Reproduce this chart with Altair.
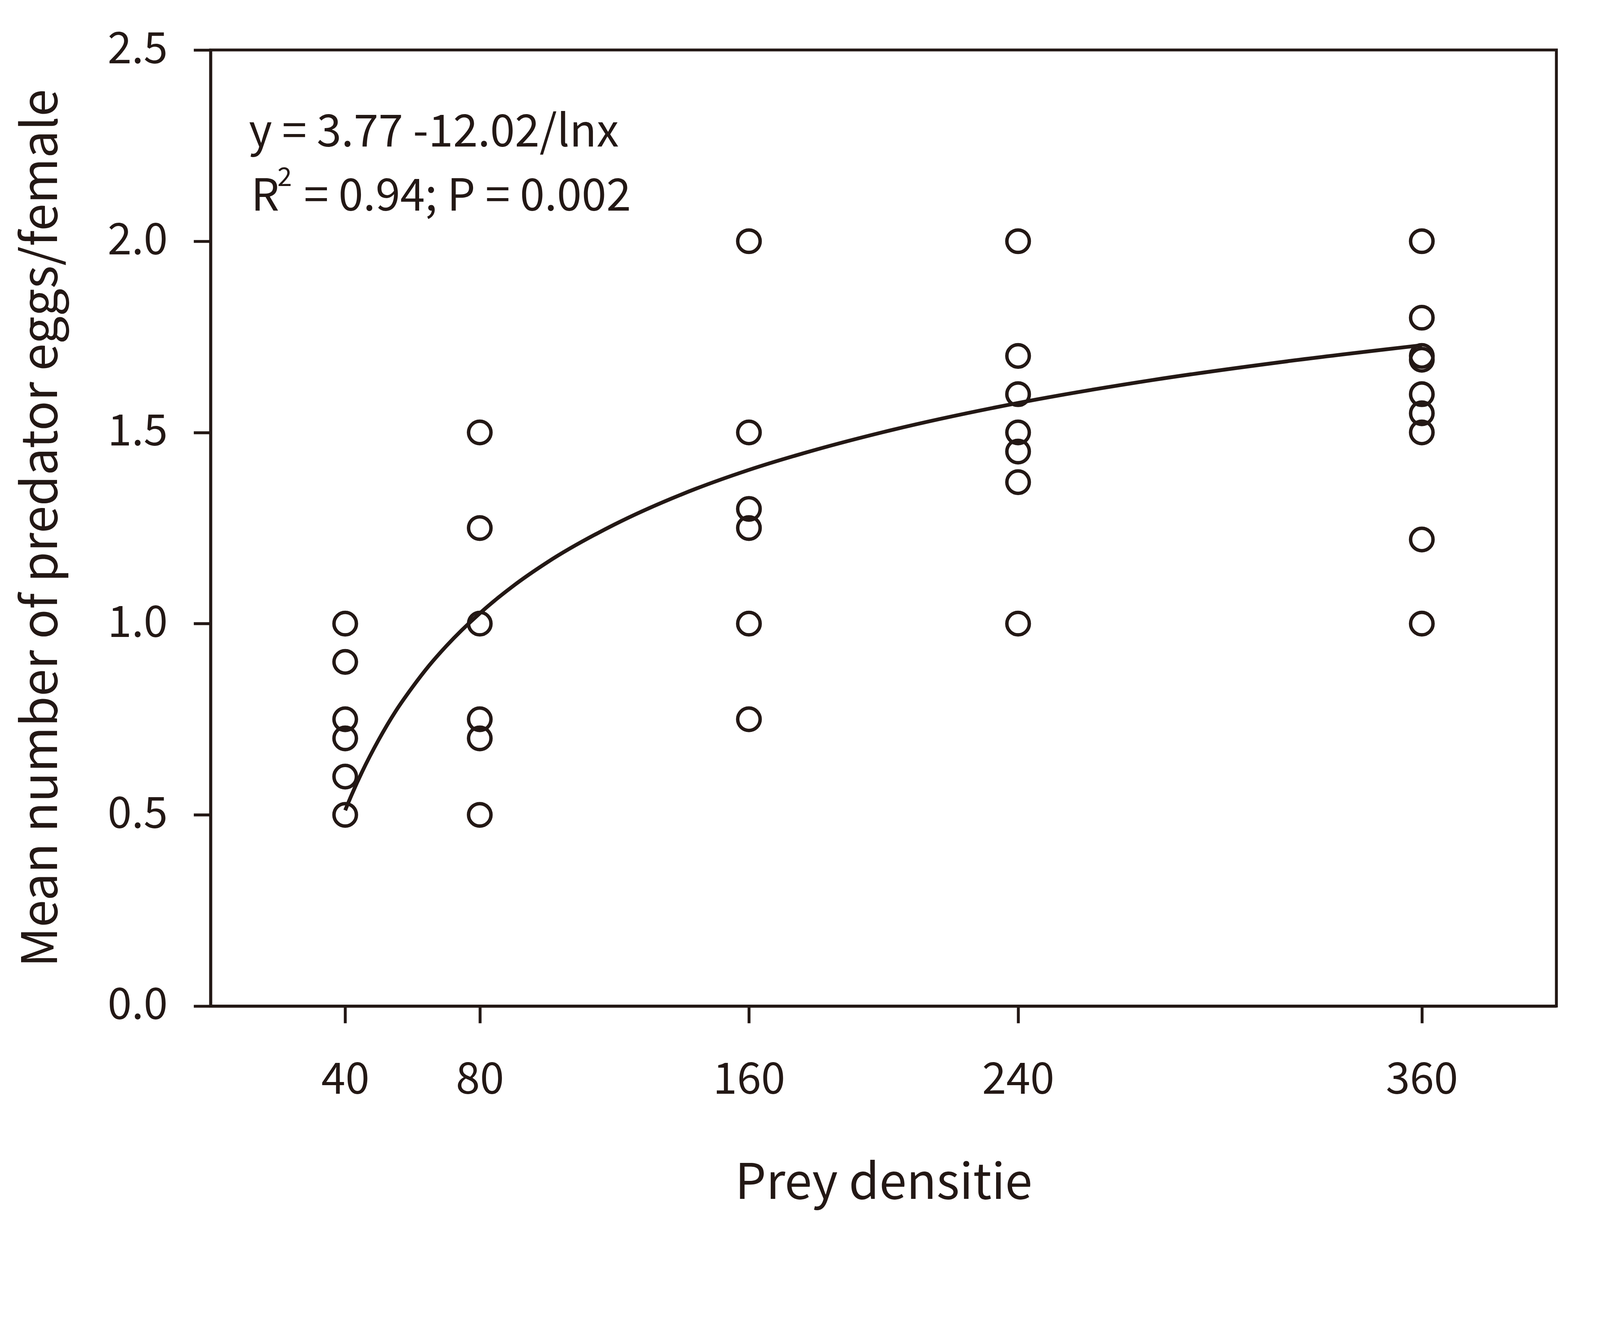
import altair as alt
import pandas as pd

# ---- data ----
density_40 = [40, 40, 40, 40, 40, 40]
eggs_40 = [1.0, 0.9, 0.75, 0.7, 0.6, 0.5]
density_80 = [80, 80, 80, 80, 80, 80]
eggs_80 = [1.5, 1.25, 1.0, 0.75, 0.7, 0.5]
density_160 = [160, 160, 160, 160, 160, 160]
eggs_160 = [2.0, 1.5, 1.3, 1.25, 1.0, 0.75]
density_240 = [240, 240, 240, 240, 240, 240, 240]
eggs_240 = [2.0, 1.7, 1.6, 1.5, 1.45, 1.37, 1.0]
density_360 = [360, 360, 360, 360, 360, 360, 360, 360, 360]
eggs_360 = [2.0, 1.8, 1.7, 1.69, 1.6, 1.55, 1.5, 1.22, 1.0]

# fitted curve
fit_x = [40, 42, 45, 50, 55, 60, 65, 70, 80, 90, 100, 120, 140, 160, 180, 200, 240, 280, 320, 360]
fit_y = [0.512, 0.554, 0.612, 0.697, 0.771, 0.834, 0.891, 0.941, 1.027, 1.099, 1.160, 1.259,
         1.338, 1.402, 1.455, 1.501, 1.577, 1.637, 1.686, 1.728]

x_ticks = [40, 80, 160, 240, 360]
y_ticks = [0.0, 0.5, 1.0, 1.5, 2.0, 2.5]

eq_line = "y = 3.77 -12.02/lnx"
r_main = "R"
r_sup = "2"
r_rest = "= 0.94; P = 0.002"

x_title = "Prey densitie"
y_title = "Mean number of predator eggs/female"

INK = "#231815"
FONT = "Noto Sans CJK SC"

pts = pd.DataFrame({
    "density": density_40 + density_80 + density_160 + density_240 + density_360,
    "eggs": eggs_40 + eggs_80 + eggs_160 + eggs_240 + eggs_360,
})
fit = pd.DataFrame({"density": fit_x, "eggs": fit_y})

W, H = 3723, 2644

xscale = alt.Scale(domain=[0, 400], nice=False, zero=False)
yscale = alt.Scale(domain=[0, 2.5], nice=False)

xaxis = alt.Axis(values=x_ticks, title=x_title, labelPadding=100, titlePadding=226,
                 labelLimit=0, labelOverlap=False)
yaxis = alt.Axis(values=y_ticks, format=".1f", title=y_title, labelPadding=72, titlePadding=196,
                 labelLimit=0, labelOverlap=False)

points = alt.Chart(pts).mark_point(
    shape="circle", filled=False, size=3850, strokeWidth=9.5, color=INK, opacity=1
).encode(
    x=alt.X("density:Q", scale=xscale, axis=xaxis),
    y=alt.Y("eggs:Q", scale=yscale, axis=yaxis),
)

curve = alt.Chart(fit).mark_line(
    color=INK, strokeWidth=10.5, interpolate="monotone"
).encode(
    x=alt.X("density:Q", scale=xscale),
    y=alt.Y("eggs:Q", scale=yscale),
)

txt_style = dict(font=FONT, fontSize=123, color=INK, align="left", baseline="alphabetic")

t1 = alt.Chart(pd.DataFrame({"t": [eq_line]})).mark_text(**txt_style).encode(
    text="t:N", x=alt.value(106), y=alt.value(267)
)
t2 = alt.Chart(pd.DataFrame({"t": [r_main]})).mark_text(**txt_style).encode(
    text="t:N", x=alt.value(112), y=alt.value(444)
)
t3 = alt.Chart(pd.DataFrame({"t": [r_sup]})).mark_text(
    font=FONT, fontSize=72, color=INK, align="left", baseline="alphabetic"
).encode(
    text="t:N", x=alt.value(185), y=alt.value(376)
)
t4 = alt.Chart(pd.DataFrame({"t": [r_rest]})).mark_text(**txt_style).encode(
    text="t:N", x=alt.value(258), y=alt.value(444)
)

chart = alt.layer(points, curve, t1, t2, t3, t4).properties(
    width=W, height=H,
    autosize=alt.AutoSizeParams(type="none"),
    padding={"left": 574, "top": 0, "right": 112, "bottom": 570},
    background="white",
).configure_view(
    stroke=INK, strokeWidth=8
).configure_axis(
    domainColor=INK, domainWidth=8,
    tickColor=INK, tickWidth=8, tickSize=47,
    labelFont=FONT, labelFontSize=120, labelColor=INK,
    titleFont=FONT, titleFontSize=136, titleFontWeight="normal", titleColor=INK,
    grid=False,
)

chart.save("out.html", embed_options={"renderer": "svg", "actions": False})
